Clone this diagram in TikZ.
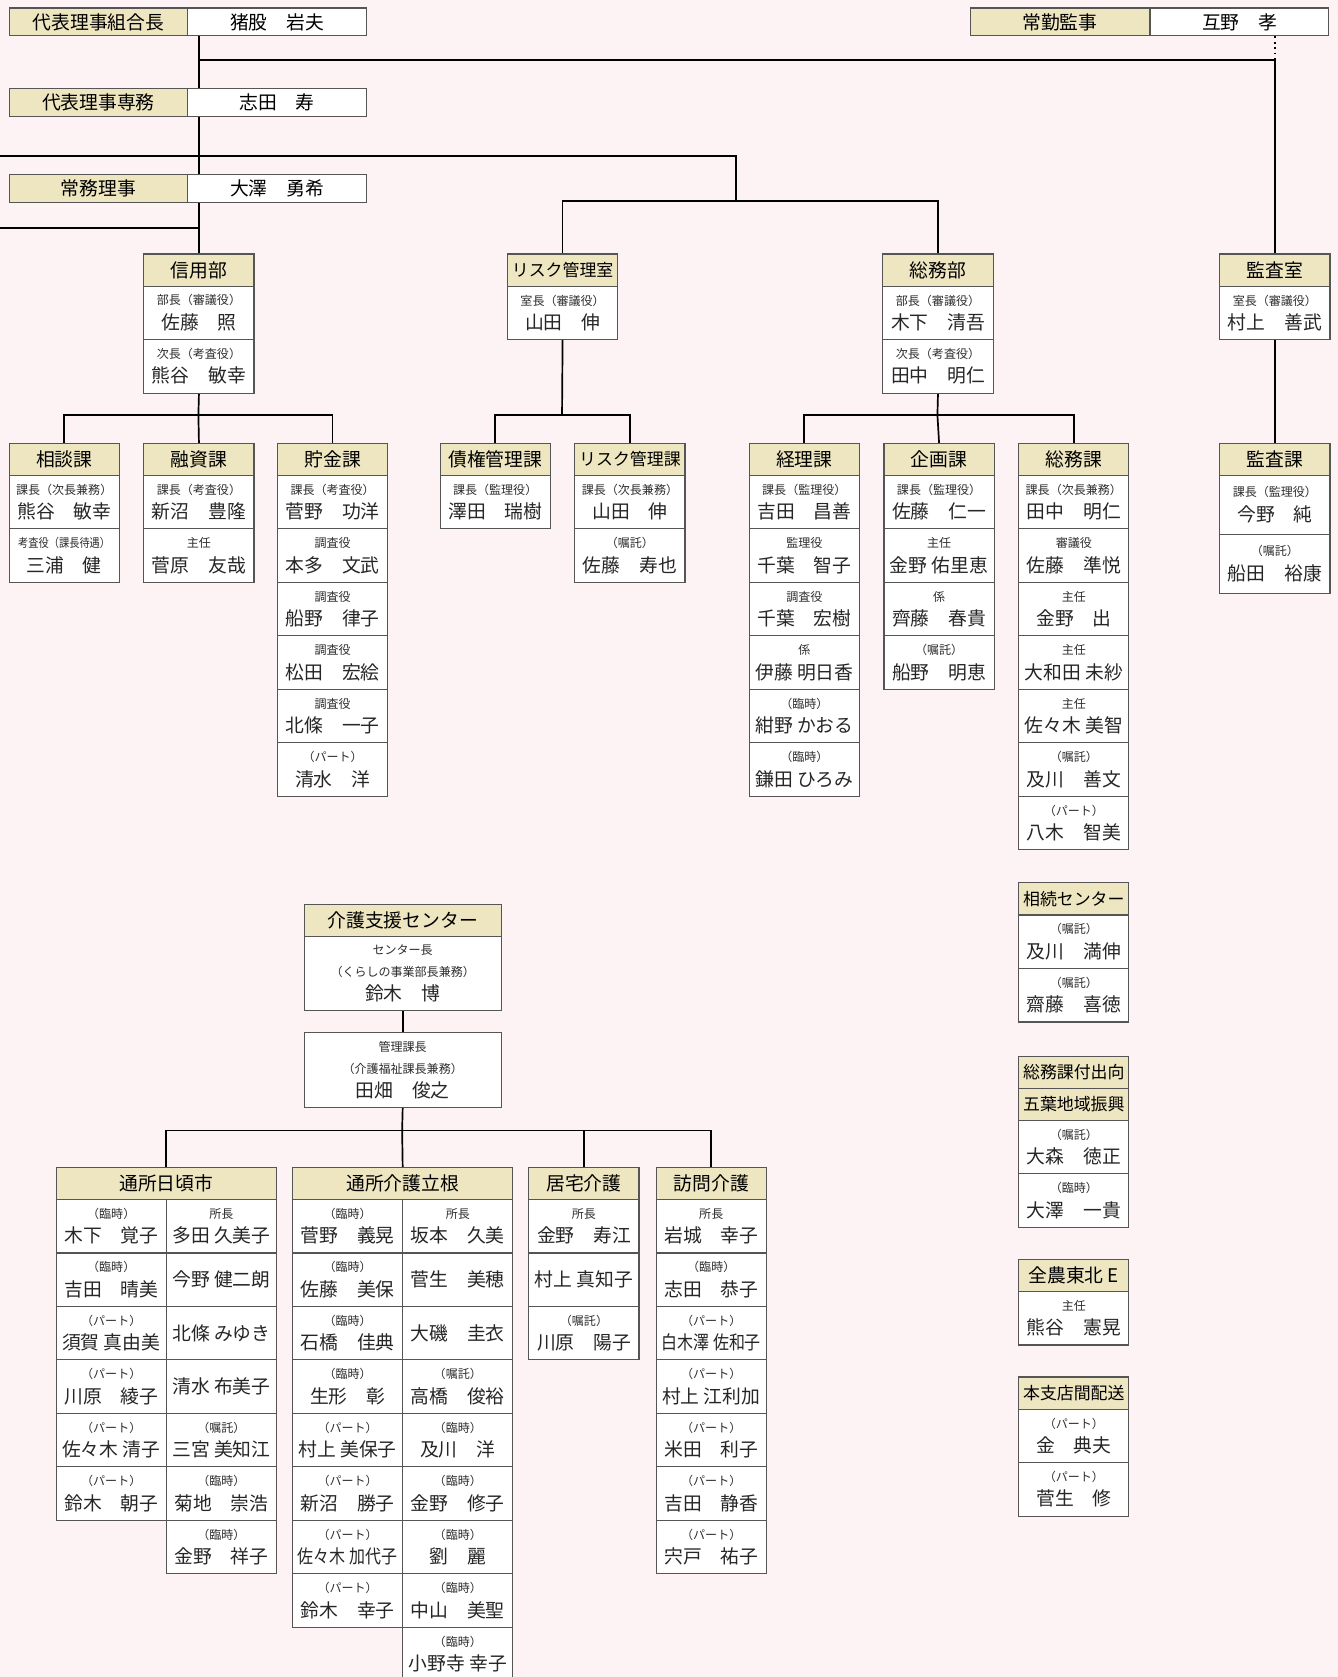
\documentclass[tikz,border=0pt]{standalone}
\usepackage{fontspec}
\usepackage{graphicx}
\setmainfont{Noto Sans CJK JP}
\usetikzlibrary{backgrounds}
\definecolor{bgpink}{RGB}{253,243,244}
\definecolor{hdfill}{RGB}{238,230,192}
\definecolor{boxline}{RGB}{85,85,85}
\definecolor{ttlgray}{RGB}{45,45,45}
\newcommand\ttl{\fontsize{6.4}{7.5}\selectfont\color{ttlgray}}
\newcommand\celn[2]{#2}
\newcommand\celt[2]{{\ttl #1}\\[1pt]#2}
\newcommand\cel[2]{\ifnum\strcmp{#1}{-}=0 \expandafter\celn\else\expandafter\celt\fi{#1}{#2}}
\newcommand\narrow[1]{\scalebox{0.85}[1]{#1}}

\begin{document}
\begin{tikzpicture}[x=0.02cm, y=-0.02cm,
    hd/.style={draw=boxline, line width=0.6pt, fill=hdfill, minimum width=2.06cm,
               minimum height=0.6cm, inner sep=0pt, anchor=north west,
               font=\fontsize{10}{12}\selectfont},
    hds/.style={hd, font=\fontsize{9}{11}\selectfont},
    mem/.style={draw=boxline, line width=0.6pt, fill=white, minimum width=2.06cm,
               minimum height=1cm, inner sep=0pt, anchor=north west, align=center,
               text=black!85, font=\fontsize{10}{12}\selectfont},
    post/.style={hd, minimum width=3.34cm, minimum height=0.52cm},
    pname/.style={post, fill=white},
    conn/.style={line width=0.9pt}]

\useasboundingbox (0,0) rectangle (1251,1568);

% 役員
\node[post]  (kumiai)   at (8,7)     {代表理事組合長};
\node[pname] (kumiai-n) at (175,7)   {猪股　岩夫};
\node[post]  (kanji)    at (907,7)   {常勤監事};
\node[pname] (kanji-n)  at (1075,7)  {互野　孝};
\node[post]  (senmu)    at (8,82)    {代表理事専務};
\node[pname] (senmu-n)  at (175,82)  {志田　寿};
\node[post]  (jomu)     at (8,163)   {常務理事};
\node[pname] (jomu-n)   at (175,163) {大澤　勇希};

% 部・室
\node[hd] (shinyo) at (134,237) {信用部};
\foreach \t/\n [count=\k] in {部長（審議役）/佐藤　照, 次長（考査役）/熊谷　敏幸}
    \node[mem] (shinyo-\k) at (134,{267+50*(\k-1)}) {\cel{\t}{\n}};
\node[hds] (risk) at (474,237) {リスク管理室};
\node[mem] (risk-1) at (474,267) {\cel{室長（審議役）}{山田　伸}};
\node[hd] (somu) at (825,237) {総務部};
\foreach \t/\n [count=\k] in {部長（審議役）/木下　清吾, 次長（考査役）/田中　明仁}
    \node[mem] (somu-\k) at (825,{267+50*(\k-1)}) {\cel{\t}{\n}};
\node[hd] (kansa) at (1140,237) {監査室};
\node[mem] (kansa-1) at (1140,267) {\cel{室長（審議役）}{村上　善武}};

% 課
\node[hd] (soudan) at (8,414) {相談課};
\foreach \t/\n [count=\k] in {課長（次長兼務）/熊谷　敏幸, \narrow{考査役（課長待遇）}/三浦　健}
    \node[mem] (soudan-\k) at (8,{444+50*(\k-1)}) {\cel{\t}{\n}};
\node[hd] (yushi) at (134,414) {融資課};
\foreach \t/\n [count=\k] in {課長（考査役）/新沼　豊隆, 主任/菅原　友哉}
    \node[mem] (yushi-\k) at (134,{444+50*(\k-1)}) {\cel{\t}{\n}};
\node[hd] (chokin) at (259,414) {貯金課};
\foreach \t/\n [count=\k] in {課長（考査役）/菅野　功洋, 調査役/本多　文武, 調査役/船野　律子,
        調査役/松田　宏絵, 調査役/北條　一子, （パート）/清水　洋}
    \node[mem] (chokin-\k) at (259,{444+50*(\k-1)}) {\cel{\t}{\n}};
\node[hd] (saiken) at (411,414) {債権管理課};
\node[mem] (saiken-1) at (411,444) {\cel{課長（監理役）}{澤田　瑞樹}};
\node[hds] (riskka) at (537,414) {リスク管理課};
\foreach \t/\n [count=\k] in {課長（次長兼務）/山田　伸, （嘱託）/佐藤　寿也}
    \node[mem] (riskka-\k) at (537,{444+50*(\k-1)}) {\cel{\t}{\n}};
\node[hd] (keiri) at (700,414) {経理課};
\foreach \t/\n [count=\k] in {課長（監理役）/吉田　昌善, 監理役/千葉　智子, 調査役/千葉　宏樹,
        係/伊藤 明日香, （臨時）/紺野 かおる, （臨時）/鎌田 ひろみ}
    \node[mem] (keiri-\k) at (700,{444+50*(\k-1)}) {\cel{\t}{\n}};
\node[hd] (kikaku) at (826,414) {企画課};
\foreach \t/\n [count=\k] in {課長（監理役）/佐藤　仁一, 主任/金野 佑里恵, 係/齊藤　春貴,
        （嘱託）/船野　明恵}
    \node[mem] (kikaku-\k) at (826,{444+50*(\k-1)}) {\cel{\t}{\n}};
\node[hd] (somuka) at (952,414) {総務課};
\foreach \t/\n [count=\k] in {課長（次長兼務）/田中　明仁, 審議役/佐藤　準悦, 主任/金野　出,
        主任/大和田 未紗, 主任/佐々木 美智, （嘱託）/及川　善文, （パート）/八木　智美}
    \node[mem] (somuka-\k) at (952,{444+50*(\k-1)}) {\cel{\t}{\n}};
\node[hd] (kansaka) at (1140,414) {監査課};
\foreach \t/\n [count=\k] in {課長（監理役）/今野　純, （嘱託）/船田　裕康}
    \node[mem, minimum height=1.1cm] (kansaka-\k) at (1140,{444+55*(\k-1)}) {\cel{\t}{\n}};

% 右列
\node[hds] (sozoku) at (952,825) {相続センター};
\foreach \t/\n [count=\k] in {（嘱託）/及川　満伸, （嘱託）/齋藤　喜徳}
    \node[mem] (sozoku-\k) at (952,{855+50*(\k-1)}) {\cel{\t}{\n}};
\node[hds] (shukko) at (952,987) {総務課付出向};
\node[hds] (goyo) at (952,1017) {五葉地域振興};
\foreach \t/\n [count=\k] in {（嘱託）/大森　徳正, （臨時）/大澤　一貴}
    \node[mem] (goyo-\k) at (952,{1047+50*(\k-1)}) {\cel{\t}{\n}};
\node[hd] (zenno) at (952,1177) {全農東北 E};
\node[mem] (zenno-1) at (952,1207) {\cel{主任}{熊谷　憲晃}};
\node[hds] (haiso) at (952,1287) {本支店間配送};
\foreach \t/\n [count=\k] in {（パート）/金　典夫, （パート）/菅生　修}
    \node[mem] (haiso-\k) at (952,{1317+50*(\k-1)}) {\cel{\t}{\n}};

% 介護支援センター
\node[hd, minimum width=3.68cm] (kaigo) at (284,845) {介護支援センター};
\node[mem, minimum width=3.68cm, minimum height=1.38cm] (kaigo-1) at (284,875)
    {{\ttl センター長}\\[-0.4pt]{\ttl （くらしの事業部長兼務）}\\[1pt]鈴木　博};
\node[mem, minimum width=3.68cm, minimum height=1.4cm] (kanri) at (284,965)
    {{\ttl 管理課長}\\[-0.4pt]{\ttl （介護福祉課長兼務）}\\[1pt]田畑　俊之};

\node[hd, minimum width=4.12cm] (hikoroichi) at (52,1091) {通所日頃市};
\foreach \t/\n [count=\k] in {（臨時）/木下　覚子, （臨時）/吉田　晴美, （パート）/須賀 真由美,
        （パート）/川原　綾子, （パート）/佐々木 清子, （パート）/鈴木　朝子}
    \node[mem] (hikoroichi-a\k) at (52,{1121+50*(\k-1)}) {\cel{\t}{\n}};
\foreach \t/\n [count=\k] in {所長/多田 久美子, -/今野 健二朗, -/北條 みゆき, -/清水 布美子,
        （嘱託）/三宮 美知江, （臨時）/菊地　崇浩, （臨時）/金野　祥子}
    \node[mem] (hikoroichi-b\k) at (155,{1121+50*(\k-1)}) {\cel{\t}{\n}};

\node[hd, minimum width=4.12cm] (tatsune) at (273,1091) {通所介護立根};
\foreach \t/\n [count=\k] in {（臨時）/菅野　義晃, （臨時）/佐藤　美保, （臨時）/石橋　佳典,
        （臨時）/生形　彰, （パート）/村上 美保子, （パート）/新沼　勝子,
        （パート）/\narrow{佐々木 加代子}, （パート）/鈴木　幸子}
    \node[mem] (tatsune-a\k) at (273,{1121+50*(\k-1)}) {\cel{\t}{\n}};
\foreach \t/\n [count=\k] in {所長/坂本　久美, -/菅生　美穂, -/大磯　圭衣, （嘱託）/高橋　俊裕,
        （臨時）/及川　洋, （臨時）/金野　修子, （臨時）/劉　麗, （臨時）/中山　美聖,
        （臨時）/小野寺 幸子}
    \node[mem] (tatsune-b\k) at (376,{1121+50*(\k-1)}) {\cel{\t}{\n}};

\node[hd] (kyotaku) at (494,1091) {居宅介護};
\foreach \t/\n [count=\k] in {所長/金野　寿江, -/村上 真知子, （嘱託）/川原　陽子}
    \node[mem] (kyotaku-\k) at (494,{1121+50*(\k-1)}) {\cel{\t}{\n}};
\node[hd] (houmon) at (613,1091) {訪問介護};
\foreach \t/\n [count=\k] in {所長/岩城　幸子, （臨時）/志田　恭子, （パート）/\narrow{白木澤 佐和子},
        （パート）/村上 江利加, （パート）/米田　利子, （パート）/吉田　静香, （パート）/宍戸　祐子}
    \node[mem] (houmon-\k) at (613,{1121+50*(\k-1)}) {\cel{\t}{\n}};

% 線
\begin{scope}[on background layer]
\fill[bgpink] (0,0) rectangle (1251,1568);
\coordinate (jA) at (185.5,56);
\coordinate (w1) at (0,146);
\coordinate (jB) at (688,188);
\coordinate (w2) at (0,213);
\coordinate (jC) at (185.5,388);
\coordinate (jD) at (525.5,388);
\coordinate (jE) at (876.5,388);
\coordinate (jF) at (376,1057);
\draw[conn] (kumiai-n.south -| shinyo.north) -- (shinyo.north);
\draw[conn] (jA) -| (kansa.north);
\draw[conn, dotted] (kanji-n.south -| kansa.north) -- (kansa.north |- jA);
\draw[conn] (w1) -| (jB);
\draw[conn] (risk.north) |- (jB) -| (somu.north);
\draw[conn] (w2) -- (w2 -| shinyo.north);
\draw[conn] (shinyo-2.south) -- (jC);
\draw[conn] (soudan.north) |- (jC) -| (chokin.north);
\draw[conn] (jC) -- (yushi.north);
\draw[conn] (risk-1.south) -- (jD);
\draw[conn] (saiken.north) |- (jD) -| (riskka.north);
\draw[conn] (somu-2.south) -- (jE);
\draw[conn] (keiri.north) |- (jE) -| (somuka.north);
\draw[conn] (jE) -- (kikaku.north);
\draw[conn] (kansa-1.south) -- (kansaka.north);
\draw[conn] (kaigo-1.south) -- (kanri.north);
\draw[conn] (kanri.south) -- (jF);
\draw[conn] (hikoroichi.north) |- (jF) -| (houmon.north);
\draw[conn] (jF) -- (tatsune.north);
\draw[conn] (kyotaku.north) -- (kyotaku.north |- jF);
\end{scope}
\end{tikzpicture}
\end{document}
